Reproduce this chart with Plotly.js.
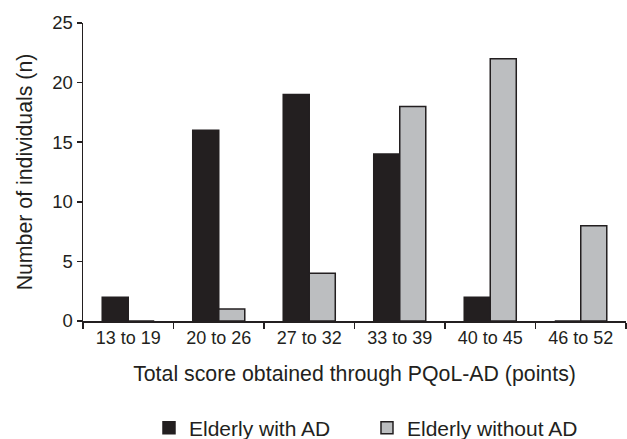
<!DOCTYPE html>
<html>
<head>
<meta charset="utf-8">
<script src="https://cdn.plot.ly/plotly-3.0.1.min.js"></script>
<style>html,body{margin:0;padding:0;background:#fff;}#chart{width:627px;height:439px;}</style>
</head>
<body>
<div id="chart"></div>
<script>
var categories = ["13 to 19", "20 to 26", "27 to 32", "33 to 39", "40 to 45", "46 to 52"];
var withAD = [2, 16, 19, 14, 2, 0];
var withoutAD = [0, 1, 4, 18, 22, 8];
var seriesNames = ["Elderly with AD", "Elderly without AD"];
var yTicks = [0, 5, 10, 15, 20, 25];

var dark = "#231f20";
var font = "Liberation Sans, Arial, sans-serif";

var traces = [
  {type: "bar", name: seriesNames[0], x: categories, y: withAD,
   marker: {color: dark, line: {color: dark, width: 1.5}}},
  {type: "bar", name: seriesNames[1], x: categories, y: withoutAD,
   marker: {color: "#bcbec0", line: {color: dark, width: 1.5}}}
];

var layout = {
  width: 627, height: 439,
  margin: {l: 83, r: 1, t: 23, b: 118},
  paper_bgcolor: "#fff", plot_bgcolor: "#fff",
  font: {family: font, size: 18, color: dark},
  barmode: "group", bargap: 0.425, bargroupgap: 0,
  showlegend: true,
  legend: {orientation: "h", x: 0.523, xanchor: "center", yref: "container", y: 0.025, yanchor: "middle",
           bgcolor: "rgba(0,0,0,0)",
           font: {family: font, size: 21, color: dark}, entrywidth: 173, traceorder: "normal"},
  xaxis: {type: "category", showline: true, linecolor: dark, linewidth: 1.5,
          ticks: "outside", tickson: "boundaries", ticklen: 6, tickwidth: 1.5, tickcolor: dark,
          showgrid: false, zeroline: false,
          tickfont: {family: font, size: 18, color: dark},
          title: {text: "Total score obtained through PQoL-AD (points)", standoff: 19,
                  font: {family: font, size: 21.3, color: dark}}},
  yaxis: {range: [0, 25], tickvals: yTicks, showline: true, linecolor: dark, linewidth: 1.5,
          ticks: "outside", ticklen: 5, tickwidth: 1.5, tickcolor: dark,
          showgrid: false, zeroline: false,
          tickfont: {family: font, size: 18.5, color: dark},
          title: {text: "Number of individuals (n)", standoff: 14,
                  font: {family: font, size: 21.3, color: dark}}}
};

Plotly.newPlot("chart", traces, layout, {displayModeBar: false, staticPlot: true});
</script>
</body>
</html>
